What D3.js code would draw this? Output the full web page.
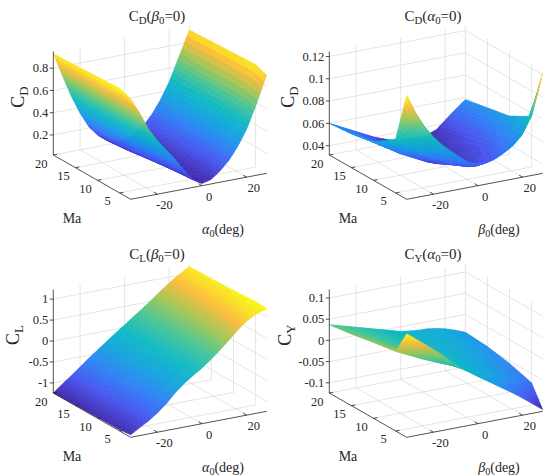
<!DOCTYPE html>
<html>
<head>
<meta charset="utf-8">
<script src="https://cdn.jsdelivr.net/npm/d3@7"></script>
<style>
  body { margin: 0; background: #fff; }
  svg { display: block; font-family: "Liberation Serif", "Times New Roman", serif; }
  .grid { stroke: #d4d4d4; stroke-width: 0.6; fill: none; }
  .axis { stroke: #262626; stroke-width: 0.8; fill: none; }
  text { fill: #262626; }
</style>
</head>
<body>
<script>
const width = 550;
const height = 476;

// grid of the tables: angle (deg) and Mach number
const angleGrid = [-32, -28, -24, -20, -16, -12, -8, -4, 0, 4, 8, 12, 16, 20, 24, 29];
const machGrid = [2.5, 5, 10, 15, 20];
const angleTicks = [-20, 0, 20];
const machTicks = [5, 10, 15, 20];

// rows follow machGrid, columns follow angleGrid
const cdAlpha = [
  [0.92, 0.78, 0.62, 0.50, 0.40, 0.30, 0.19, 0.09, 0.04, 0.06, 0.12, 0.20, 0.31, 0.45, 0.64, 0.90],
  [0.96, 0.79, 0.61, 0.47, 0.36, 0.26, 0.16, 0.08, 0.04, 0.06, 0.12, 0.21, 0.33, 0.48, 0.67, 0.94],
  [0.95, 0.76, 0.57, 0.42, 0.30, 0.19, 0.11, 0.06, 0.035, 0.06, 0.12, 0.21, 0.33, 0.48, 0.67, 0.93],
  [0.94, 0.74, 0.54, 0.38, 0.25, 0.15, 0.08, 0.045, 0.03, 0.06, 0.12, 0.21, 0.33, 0.48, 0.67, 0.92],
  [0.93, 0.72, 0.52, 0.35, 0.21, 0.12, 0.06, 0.035, 0.03, 0.06, 0.12, 0.21, 0.33, 0.48, 0.67, 0.91],
];
const cdBeta = [
  [0.125, 0.108, 0.094, 0.083, 0.074, 0.067, 0.060, 0.054, 0.051, 0.051, 0.053, 0.057, 0.062, 0.070, 0.085, 0.122],
  [0.080, 0.074, 0.069, 0.064, 0.060, 0.055, 0.050, 0.046, 0.043, 0.042, 0.043, 0.046, 0.050, 0.056, 0.064, 0.077],
  [0.066, 0.061, 0.056, 0.051, 0.047, 0.043, 0.039, 0.036, 0.035, 0.035, 0.037, 0.040, 0.044, 0.049, 0.056, 0.066],
  [0.062, 0.058, 0.053, 0.049, 0.045, 0.041, 0.038, 0.035, 0.034, 0.034, 0.035, 0.037, 0.040, 0.045, 0.052, 0.062],
  [0.060, 0.056, 0.052, 0.048, 0.044, 0.040, 0.037, 0.034, 0.033, 0.032, 0.032, 0.033, 0.036, 0.043, 0.050, 0.058],
];
const clAlpha = [
  [-1.18, -1.05, -0.93, -0.78, -0.60, -0.38, -0.20, -0.05, 0.09, 0.25, 0.43, 0.63, 0.83, 1.00, 1.12, 1.21],
  [-1.21, -1.08, -0.94, -0.78, -0.61, -0.43, -0.25, -0.08, 0.08, 0.24, 0.41, 0.59, 0.78, 0.96, 1.10, 1.23],
  [-1.22, -1.07, -0.92, -0.76, -0.59, -0.42, -0.25, -0.09, 0.07, 0.23, 0.39, 0.56, 0.73, 0.90, 1.04, 1.19],
  [-1.23, -1.07, -0.91, -0.75, -0.58, -0.41, -0.25, -0.09, 0.06, 0.22, 0.38, 0.54, 0.71, 0.87, 1.01, 1.17],
  [-1.24, -1.07, -0.91, -0.74, -0.57, -0.41, -0.25, -0.09, 0.06, 0.22, 0.37, 0.53, 0.70, 0.86, 1.00, 1.16],
];
const cyBeta = [
  [0.120, 0.104, 0.088, 0.071, 0.054, 0.035, 0.017, 0.002, -0.013, -0.027, -0.041, -0.055, -0.069, -0.084, -0.100, -0.120],
  [0.064, 0.054, 0.044, 0.034, 0.025, 0.016, 0.008, 0.000, -0.008, -0.016, -0.024, -0.032, -0.041, -0.050, -0.060, -0.072],
  [0.055, 0.046, 0.037, 0.029, 0.021, 0.014, 0.007, 0.000, -0.007, -0.013, -0.019, -0.025, -0.032, -0.040, -0.047, -0.056],
  [0.045, 0.038, 0.031, 0.024, 0.017, 0.011, 0.005, -0.001, -0.007, -0.011, -0.015, -0.019, -0.024, -0.030, -0.037, -0.046],
  [0.037, 0.031, 0.025, 0.019, 0.013, 0.007, 0.001, -0.005, -0.011, -0.014, -0.016, -0.017, -0.020, -0.025, -0.032, -0.042],
];

// parula-like colour stops
const parulaStops = [0, 0.13, 0.25, 0.38, 0.5, 0.62, 0.75, 0.87, 1];
const parulaColors = ["#3e26a8", "#4654ee", "#2e7ff6", "#14a3de", "#0eb9c3", "#44c497", "#a0c656", "#fabb3a", "#f9fa14"];

const panels = [
  { ox: 0, oy: 0, z: cdAlpha, zDomain: [0.02, 0.95], zTicks: [0.2, 0.4, 0.6, 0.8],
    title: [["C"], ["D", "sub"], ["("], ["β", "it"], ["0", "sub"], ["=0)"]],
    ylab: [["C"], ["D", "sub"]], ylabX: 24,
    xlab: [["α", "it"], ["0", "sub"], ["(deg)"]] },
  { ox: 276, oy: 0, z: cdBeta, zDomain: [0.0316, 0.1245], zTicks: [0.04, 0.06, 0.08, 0.1, 0.12],
    title: [["C"], ["D", "sub"], ["("], ["α", "it"], ["0", "sub"], ["=0)"]],
    ylab: [["C"], ["D", "sub"]], ylabX: 18,
    xlab: [["β", "it"], ["0", "sub"], ["(deg)"]] },
  { ox: 0, oy: 238, z: clAlpha, zDomain: [-1.24, 1.23], zTicks: [-1, -0.5, 0, 0.5, 1],
    title: [["C"], ["L", "sub"], ["("], ["β", "it"], ["0", "sub"], ["=0)"]],
    ylab: [["C"], ["L", "sub"]], ylabX: 19,
    xlab: [["α", "it"], ["0", "sub"], ["(deg)"]] },
  { ox: 276, oy: 238, z: cyBeta, zDomain: [-0.124, 0.12], zTicks: [-0.1, -0.05, 0, 0.05, 0.1],
    title: [["C"], ["Y", "sub"], ["("], ["α", "it"], ["0", "sub"], ["=0)"]],
    ylab: [["C"], ["Y", "sub"]], ylabX: 15,
    xlab: [["β", "it"], ["0", "sub"], ["(deg)"]] },
];

// screen geometry of the plot box (same for all four axes)
const F = [130.7, 199.3];      // front bottom corner
const XV = [136, -26];         // full angle range
const YV = [-77.4, -44.3];     // full Mach range
const ZH = 103.5;              // full z range

const sx = d3.scaleLinear().domain([-32, 29]).range([0, 1]);
const sy = d3.scaleLinear().domain([2.5, 20]).range([0, 1]);

function project(s, t, w) {
  return [F[0] + s * XV[0] + t * YV[0], F[1] + s * XV[1] + t * YV[1] - w * ZH];
}
// distance toward the viewer, used for painter's ordering
function depth(s, t, w) {
  return -0.472 * 157 * s - 0.817 * 155 * t + 0.331 * 110 * w;
}

function richText(sel, parts) {
  let shifted = false;
  parts.forEach(([txt, kind]) => {
    const ts = sel.append("tspan").text(txt);
    if (kind === "sub") {
      ts.attr("font-size", "0.72em").attr("dy", shifted ? null : "0.32em");
      shifted = true;
    } else {
      if (shifted) ts.attr("dy", "-0.23em");
      shifted = false;
      if (kind === "it") ts.attr("font-style", "italic");
    }
  });
}

const svg = d3.create("svg").attr("width", width).attr("height", height).attr("viewBox", [0, 0, width, height]);

panels.forEach((p) => {
  const g = svg.append("g").attr("transform", `translate(${p.ox},${p.oy})`);
  const sz = d3.scaleLinear().domain(p.zDomain).range([0, 1]);
  const flat = p.z.flat();
  const cnorm = d3.scaleLinear().domain(d3.extent(flat)).range([0, 1]).clamp(true);
  const cmap = d3.scaleLinear().domain(parulaStops).range(parulaColors).interpolate(d3.interpolateRgb);
  const line = d3.line();
  const P = (x, y, z) => project(sx(x), sy(y), sz(z));

  // grid on floor and back walls
  const grid = g.append("g").attr("class", "grid");
  const [x0, x1] = sx.domain(), [y0, y1] = sy.domain(), [z0, z1] = p.zDomain;
  angleTicks.forEach((a) => {
    grid.append("path").attr("d", line([P(a, y0, z0), P(a, y1, z0), P(a, y1, z1)]));
  });
  machTicks.forEach((m) => {
    grid.append("path").attr("d", line([P(x0, m, z0), P(x1, m, z0), P(x1, m, z1)]));
  });
  p.zTicks.forEach((v) => {
    grid.append("path").attr("d", line([P(x0, y1, v), P(x1, y1, v), P(x1, y0, v)]));
  });

  // surface, drawn as small bilinear pieces of every table cell
  const NA = 5, NB = 8;
  const quads = [];
  for (let j = 0; j < machGrid.length - 1; j++) {
    for (let i = 0; i < angleGrid.length - 1; i++) {
      const z00 = p.z[j][i], z10 = p.z[j][i + 1], z01 = p.z[j + 1][i], z11 = p.z[j + 1][i + 1];
      const at = (u, v) => {
        const x = angleGrid[i] + u * (angleGrid[i + 1] - angleGrid[i]);
        const y = machGrid[j] + v * (machGrid[j + 1] - machGrid[j]);
        const z = z00 * (1 - u) * (1 - v) + z10 * u * (1 - v) + z01 * (1 - u) * v + z11 * u * v;
        return [x, y, z];
      };
      for (let a = 0; a < NA; a++) {
        for (let b = 0; b < NB; b++) {
          const u0 = a / NA, u1 = (a + 1) / NA, v0 = b / NB, v1 = (b + 1) / NB;
          const c = at((u0 + u1) / 2, (v0 + v1) / 2);
          const corners = [at(u0, v0), at(u1, v0), at(u1, v1), at(u0, v1)];
          quads.push({
            pts: corners.map(([x, y, z]) => P(x, y, z)),
            d: depth(sx(c[0]), sy(c[1]), sz(c[2])),
            color: cmap(cnorm(c[2])),
          });
        }
      }
    }
  }
  quads.sort((a, b) => a.d - b.d);
  g.append("g")
    .selectAll("path")
    .data(quads)
    .join("path")
    .attr("d", (q) => line(q.pts) + "Z")
    .attr("fill", (q) => q.color)
    .attr("stroke", (q) => q.color)
    .attr("stroke-width", 0.5)
    .attr("stroke-linejoin", "round");

  // axis lines
  const ax = g.append("g").attr("class", "axis");
  ax.append("path").attr("d", line([P(x0, y0, z0), P(x1, y0, z0)]));
  ax.append("path").attr("d", line([P(x0, y0, z0), P(x0, y1, z0)]));
  ax.append("path").attr("d", line([P(x0, y1, z0), P(x0, y1, z1)]));

  const lab = g.append("g").attr("font-size", 12.5);
  angleTicks.forEach((a) => {
    const [px, py] = P(a, y0, z0);
    ax.append("path").attr("d", line([[px, py], [px - 3.4, py - 1.9]]));
    lab.append("text").attr("x", px + 7).attr("y", py + 15).attr("text-anchor", "middle").text(a);
  });
  machTicks.forEach((m) => {
    const [px, py] = P(x0, m, z0);
    ax.append("path").attr("d", line([[px, py], [px + 3.9, py - 0.75]]));
    lab.append("text").attr("x", px - 12).attr("y", py + 12.5).attr("text-anchor", "middle").text(m);
  });
  p.zTicks.forEach((v) => {
    const [px, py] = P(x0, y1, v);
    ax.append("path").attr("d", line([[px, py], [px - 3.5, py]]));
    lab.append("text").attr("x", px - 5).attr("y", py + 4.2).attr("text-anchor", "end").text(String(v));
  });

  // titles and axis labels
  richText(g.append("text").attr("x", 157).attr("y", 21).attr("text-anchor", "middle").attr("font-size", 15), p.title);
  richText(g.append("text").attr("transform", `translate(${p.ylabX},97) rotate(-90)`).attr("text-anchor", "middle").attr("font-size", 18), p.ylab);
  g.append("text").attr("x", 72).attr("y", 223).attr("text-anchor", "middle").attr("font-size", 14).text("Ma");
  richText(g.append("text").attr("x", 223).attr("y", 234).attr("text-anchor", "middle").attr("font-size", 14), p.xlab);
});

document.body.appendChild(svg.node());
</script>
</body>
</html>
